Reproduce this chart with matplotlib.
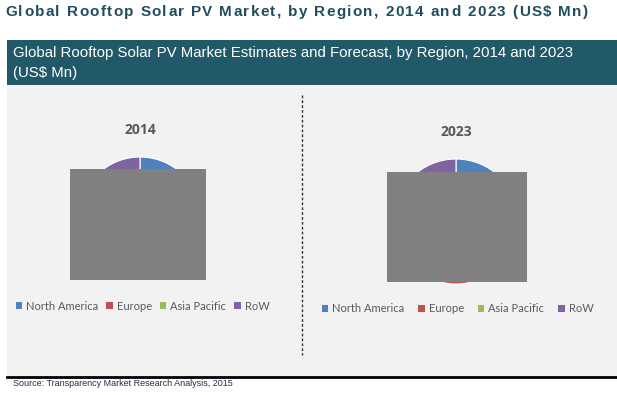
import matplotlib
matplotlib.use('Agg')
import matplotlib.pyplot as plt
from matplotlib.patches import Rectangle
from matplotlib.lines import Line2D

# dane
regions = ['North America', 'Europe', 'Asia Pacific', 'RoW']
values_2014 = [28, 35, 25, 12]
values_2023 = [25, 31, 31, 13]
colors = ['#4F81BD', '#C0504D', '#9BBB59', '#8064A2']

W, H = 617, 395
teal = '#215968'

fig = plt.figure(figsize=(W / 100, H / 100), dpi=100)
fig.patch.set_facecolor('white')


def fx(x):
    return x / W


def fy(y):
    return 1 - y / H


def box(x0, y0, x1, y1, **kw):
    fig.add_artist(Rectangle((fx(x0), fy(y1)), fx(x1) - fx(x0), fy(y0) - fy(y1),
                             transform=fig.transFigure, **kw))


def spaced_text(x, y, s, target_w, **kw):
    # tekst z rozstrzelonymi literami
    r = fig.canvas.get_renderer()
    widths = []
    for ch in s:
        t = fig.text(0, 0, ch if ch != ' ' else 'i', **kw)
        widths.append(t.get_window_extent(r).width)
        t.remove()
    gap = (target_w - sum(widths)) / (len(s) - 1)
    for ch, w in zip(s, widths):
        if ch != ' ':
            fig.text(fx(x), fy(y), ch, va='center', ha='left', **kw)
        x += w + gap


# tlo panelu i naglowek
box(7, 85, 617, 376, facecolor='#F2F2F2', edgecolor='none', zorder=0)
box(7, 40, 617, 85, facecolor=teal, edgecolor='none', zorder=0)
fig.add_artist(Line2D([fx(7), fx(617)], [fy(377), fy(377)], color='black', lw=2,
                      transform=fig.transFigure))

spaced_text(5, 12, 'Global Rooftop Solar PV Market, by Region, 2014 and 2023 (US$ Mn)', 583,
            family='Liberation Sans', fontweight='bold', fontsize=11, color='#1F4E5F')

fig.text(fx(13), fy(53), 'Global Rooftop Solar PV Market Estimates and Forecast, by Region, 2014 and 2023',
         family='Liberation Sans', fontsize=10.8, color='white', va='center')
fig.text(fx(13), fy(73), '(US$ Mn)', family='Liberation Sans', fontsize=10.8, color='white', va='center')

fig.text(fx(13), fy(384), 'Source: Transparency Market Research Analysis, 2015',
         family='Liberation Sans', fontsize=6.5, color='#1F2F4F', va='center')

# linia przerywana
fig.add_artist(Line2D([fx(302), fx(302)], [fy(95), fy(355)], color='#333333', lw=1,
                      linestyle=(0, (2, 1.5)), transform=fig.transFigure))

pies = [
    ('2014', values_2014, 140, 218, 61, 130, (70, 169, 206, 280), 142.5, 306, 0.7),
    ('2023', values_2023, 456, 221.5, 62.5, 132, (387, 172, 527, 282), 457.5, 309, 1.25),
]

for year, vals, cx, cy, r, ty, rect, lx, ly, cs in pies:
    ax = fig.add_axes([fx(cx - r), fy(cy + r), 2 * r / W, 2 * r / H])
    wedges, _ = ax.pie(vals, colors=colors, startangle=90, counterclock=False,
                       wedgeprops=dict(edgecolor='white', linewidth=0.8))
    ax.set_xlim(-1, 1)
    ax.set_ylim(-1, 1)
    ax.set_aspect('equal')
    ax.axis('off')
    fig.text(fx(cx), fy(ty), year, ha='center', va='center', fontsize=10,
             fontweight='bold', color='#595959', family='Open Sans')
    box(*rect, facecolor='#808080', edgecolor='none', zorder=5)
    handles = [Rectangle((0, 0), 1, 1, facecolor=c, edgecolor='none') for c in colors]
    fig.legend(handles, regions, loc='center', bbox_to_anchor=(fx(lx), fy(ly)),
               ncol=4, frameon=False, handlelength=0.6, handleheight=0.6,
               handletextpad=0.35, columnspacing=cs, labelcolor='#595959',
               borderpad=0, borderaxespad=0,
               prop={'family': 'Lato', 'size': 8})

fig.savefig('out.png', dpi=100)
